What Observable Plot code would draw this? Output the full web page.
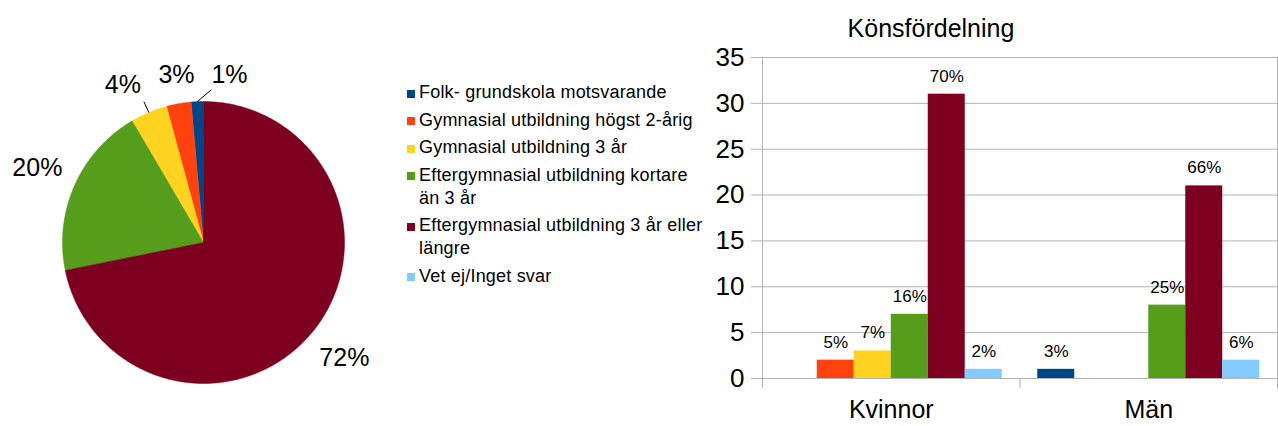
<!DOCTYPE html>
<html><head><meta charset="utf-8">
<script src="https://cdn.jsdelivr.net/npm/d3@7"></script>
<script src="https://cdn.jsdelivr.net/npm/@observablehq/plot@0.6"></script>
<style>
body{margin:0;background:#fff;font-family:"Liberation Sans",Arial,sans-serif;}
#root{position:relative;width:1278px;height:426px;overflow:hidden;background:#fff;}
#pie{position:absolute;left:0;top:0;}
#legend{position:absolute;left:407px;top:81.2px;font-size:18px;line-height:23px;color:#000;letter-spacing:0.2px;}
.item{position:relative;padding-left:12px;margin-bottom:4.5px;white-space:pre;}
.sw{position:absolute;left:0;top:8.5px;width:8px;height:8px;}
#bars{position:absolute;left:700px;top:0;}
#title{position:absolute;left:781px;width:300px;top:15.8px;text-align:center;font-size:25px;line-height:25px;color:#000;}
svg{font-family:"Liberation Sans",Arial,sans-serif;}
</style></head>
<body>
<div id="root">
  <div id="pie"></div>
  <div id="legend"></div>
  <div id="title">Könsfördelning</div>
  <div id="bars"></div>
</div>
<script>
// ---- data ----
const categories = [
  "Folk- grundskola motsvarande",
  "Gymnasial utbildning högst 2-årig",
  "Gymnasial utbildning 3 år",
  "Eftergymnasial utbildning kortare än 3 år",
  "Eftergymnasial utbildning 3 år eller längre",
  "Vet ej/Inget svar"
];
const legendLabels = [
  "Folk- grundskola motsvarande",
  "Gymnasial utbildning högst 2-årig",
  "Gymnasial utbildning 3 år",
  "Eftergymnasial utbildning kortare\nän 3 år",
  "Eftergymnasial utbildning 3 år eller\nlängre",
  "Vet ej/Inget svar"
];
const colors = ["#004586", "#ff420e", "#ffd320", "#579d1c", "#7e0021", "#83caff"];
const pieValues = [1, 2, 3, 14, 51, 0];
const groups = ["Kvinnor", "Män"];
const kvinnorValues = [0, 2, 3, 7, 31, 1];
const manValues = [1, 0, 0, 8, 21, 2];
const yTicks = [0, 5, 10, 15, 20, 25, 30, 35];

// ---- styles / layout config ----
const labelOffsets = [[34, 14], [5, 12], [-10, 10], [0, 0], [0, 0], [0, 0]]; // px
const leaderOffsets = [[-18, 15], null, [21, 17], null, null, null];        // px from label centre
const PX = 141; // pie radius in px
const labelR = 182 / PX;

const color = {domain: categories, range: colors};

// ---- pie ----
const pieRows = categories.map((c, i) => ({key: c, value: pieValues[i]}));
const pieTotal = d3.sum(pieValues);
const arcs = d3.pie().sort(null).startAngle(0).endAngle(-2 * Math.PI).value(d => d.value)(pieRows);
const pts = [];
const labels = [];
const leaders = [];
arcs.forEach((a, i) => {
  if (a.data.value <= 0) return;
  const k = a.data.key;
  const n = Math.max(2, Math.ceil(Math.abs(a.endAngle - a.startAngle) / (Math.PI / 360)));
  pts.push({key: k, x: 0, y: 0});
  for (let j = 0; j <= n; j++) {
    const t = a.startAngle + (a.endAngle - a.startAngle) * j / n;
    pts.push({key: k, x: Math.sin(t), y: Math.cos(t)});
  }
  pts.push({key: k, x: 0, y: 0});
  const mid = (a.startAngle + a.endAngle) / 2;
  const lx = labelR * Math.sin(mid) + labelOffsets[i][0] / PX;
  const ly = labelR * Math.cos(mid) - labelOffsets[i][1] / PX;
  labels.push({x: lx, y: ly, text: Math.round(a.data.value / pieTotal * 100) + "%"});
  if (leaderOffsets[i]) {
    leaders.push({x1: Math.sin(mid), y1: Math.cos(mid),
      x2: lx + leaderOffsets[i][0] / PX, y2: ly - leaderOffsets[i][1] / PX});
  }
});

const pie = Plot.plot({
  width: 400, height: 426,
  marginLeft: 62, marginRight: 56, marginTop: 101, marginBottom: 43,
  x: {domain: [-1, 1], axis: null},
  y: {domain: [-1, 1], axis: null},
  color,
  style: {background: "transparent", overflow: "visible"},
  marks: [
    Plot.line(pts, {x: "x", y: "y", z: "key", fill: "key", stroke: "key", strokeWidth: 0.5}),
    Plot.link(leaders, {x1: "x1", y1: "y1", x2: "x2", y2: "y2", stroke: "#000", strokeWidth: 1}),
    Plot.text(labels, {x: "x", y: "y", text: "text", fontSize: 25, fill: "#000"})
  ]
});
document.getElementById("pie").appendChild(pie);

// ---- legend ----
const leg = document.getElementById("legend");
legendLabels.forEach((t, i) => {
  const d = document.createElement("div");
  d.className = "item";
  const s = document.createElement("span");
  s.className = "sw";
  s.style.background = colors[i];
  d.appendChild(s);
  d.appendChild(document.createTextNode(t));
  leg.appendChild(d);
});

// ---- bars ----
const seriesByGroup = [kvinnorValues, manValues];
const bw = 37 / 257.5;
const pad = (1 - categories.length * bw) / 2;
const bars = [];
seriesByGroup.forEach((vals, gi) => {
  const tot = d3.sum(vals);
  vals.forEach((v, ci) => {
    const x1 = gi + pad + ci * bw;
    bars.push({group: groups[gi], cat: categories[ci], value: v, x1, x2: x1 + bw, xc: x1 + bw / 2,
      pct: Math.round(v / tot * 100) + "%"});
  });
});

const barChart = Plot.plot({
  width: 578, height: 426,
  marginLeft: 62, marginRight: 1, marginTop: 57, marginBottom: 48,
  x: {domain: [0, 2], axis: null},
  y: {domain: [0, 35], axis: null},
  color,
  style: {background: "transparent", overflow: "visible"},
  marks: [
    Plot.gridY({ticks: yTicks, stroke: "#b3b3b3", strokeOpacity: 1, strokeWidth: 1}),
    Plot.ruleX([0, 2], {stroke: "#b3b3b3", strokeWidth: 1}),
    Plot.axisY({ticks: yTicks, label: null, tickSize: 11, tickPadding: 7, fontSize: 26, stroke: "#b3b3b3", strokeOpacity: 1, fill: "#000"}),
    Plot.axisX({ticks: [0, 1, 2], label: null, tickSize: 10, tickFormat: () => "", stroke: "#b3b3b3", strokeOpacity: 1}),
    Plot.axisX({ticks: [0.5, 1.5], label: null, tickSize: 0, tickPadding: 22, tickFormat: d => groups[Math.floor(d)], fontSize: 25, fill: "#000"}),
    Plot.rectY(bars.filter(d => d.value > 0), {x1: "x1", x2: "x2", y: "value", fill: "cat"}),
    Plot.text(bars.filter(d => d.value > 0), {x: "xc", y: "value", text: "pct", dy: -18, fontSize: 17, fill: "#000"})
  ]
});
document.getElementById("bars").appendChild(barChart);
</script>
</body></html>
